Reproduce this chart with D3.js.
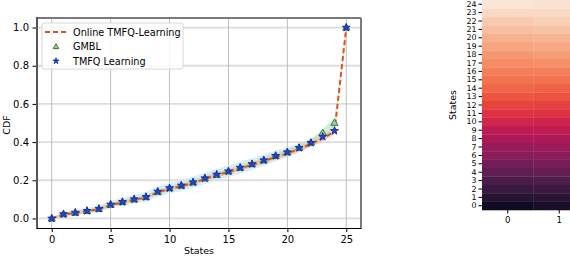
<!DOCTYPE html>
<html>
<head>
<meta charset="utf-8">
<script src="https://cdn.jsdelivr.net/npm/d3@7"></script>
<style>
  body { margin: 0; background: #fff; }
  svg { display: block; font-family: "DejaVu Sans", sans-serif; }
</style>
</head>
<body>
<svg id="chart" width="570" height="258"></svg>
<script>
// states 0..25
const states = d3.range(26);

// CDF
const online = [0.0, 0.021, 0.029, 0.038, 0.049, 0.070, 0.084, 0.098, 0.110, 0.137, 0.155, 0.169,
  0.186, 0.207, 0.226, 0.244, 0.262, 0.281, 0.300, 0.322, 0.341, 0.364, 0.390, 0.420, 0.455, 1.0];
const onlineStd = [0.004, 0.008, 0.008, 0.008, 0.008, 0.009, 0.009, 0.009, 0.01, 0.01, 0.01, 0.011,
  0.011, 0.012, 0.012, 0.012, 0.013, 0.013, 0.013, 0.013, 0.014, 0.014, 0.014, 0.015, 0.015, 0.004];
const gmbl = [0.0, 0.022, 0.030, 0.039, 0.050, 0.072, 0.086, 0.100, 0.112, 0.140, 0.158, 0.172,
  0.189, 0.210, 0.229, 0.247, 0.266, 0.285, 0.305, 0.328, 0.347, 0.371, 0.398, 0.449, 0.501, 1.0];
const gmblStd = [0.004, 0.008, 0.008, 0.008, 0.009, 0.009, 0.01, 0.01, 0.01, 0.011, 0.011, 0.012,
  0.012, 0.013, 0.013, 0.013, 0.014, 0.014, 0.014, 0.015, 0.015, 0.016, 0.017, 0.02, 0.025, 0.004];
const tmfq = [0.0, 0.023, 0.031, 0.040, 0.051, 0.073, 0.087, 0.101, 0.113, 0.141, 0.159, 0.173,
  0.190, 0.211, 0.230, 0.247, 0.266, 0.285, 0.305, 0.328, 0.347, 0.370, 0.396, 0.428, 0.459, 1.0];
const tmfqStd = [0.005, 0.011, 0.013, 0.015, 0.017, 0.019, 0.021, 0.023, 0.025, 0.027, 0.028, 0.029,
  0.03, 0.03, 0.031, 0.031, 0.031, 0.03, 0.029, 0.028, 0.026, 0.023, 0.02, 0.017, 0.013, 0.004];

const xTicks = [0, 5, 10, 15, 20, 25];
const yTicks = [0, 0.2, 0.4, 0.6, 0.8, 1.0];

// heatmap: two columns, 25 states (values 0..1 on the rocket scale)
const heatRows = d3.range(25);
const heatCols = [0, 1];
const heatCol0 = [0.03, 0.08, 0.13, 0.18, 0.23, 0.28, 0.33, 0.37, 0.42, 0.46, 0.52, 0.56, 0.61,
  0.65, 0.69, 0.72, 0.75, 0.78, 0.81, 0.84, 0.87, 0.90, 0.93, 0.96, 0.99];
const heatCol1 = [0.05, 0.09, 0.14, 0.19, 0.24, 0.29, 0.33, 0.38, 0.42, 0.47, 0.51, 0.56, 0.60,
  0.64, 0.68, 0.72, 0.75, 0.79, 0.82, 0.85, 0.88, 0.91, 0.94, 0.96, 0.98];

const rocketStops = ["#03051a", "#2a1636", "#4c1d4b", "#701f57", "#961c5b", "#bb1655",
  "#db2a46", "#ec5038", "#f37651", "#f69c73", "#f7c1a2", "#faebdd"];

const svg = d3.select("#chart");

// ---------- left line chart ----------
const x = d3.scaleLinear().domain([-1.25, 26.25]).range([37, 361]);
const y = d3.scaleLinear().domain([-0.05, 1.05]).range([228, 18]);

const plot = svg.append("g");

// grid
plot.selectAll(".hgrid").data(yTicks).join("line")
  .attr("x1", 37).attr("x2", 361)
  .attr("y1", (d) => y(d)).attr("y2", (d) => y(d))
  .attr("stroke", "#dcdcdc").attr("stroke-width", 1.8);
plot.selectAll(".vgrid").data(xTicks).join("line")
  .attr("x1", (d) => x(d)).attr("x2", (d) => x(d))
  .attr("y1", 18).attr("y2", 228)
  .attr("stroke", "#bdbdbd").attr("stroke-width", 1);

function band(mean, std) {
  return d3.area()
    .x((d) => x(d))
    .y0((d) => y(mean[d] - std[d]))
    .y1((d) => y(mean[d] + std[d]));
}

plot.append("path").datum(states).attr("d", band(tmfq, tmfqStd))
  .attr("fill", "#c4e6f8").attr("opacity", 0.7);
plot.append("path").datum(states).attr("d", band(gmbl, gmblStd))
  .attr("fill", "#a8dcb6").attr("opacity", 0.55);
plot.append("path").datum(states).attr("d", band(online, onlineStd))
  .attr("fill", "#f5b88e").attr("opacity", 0.6);

const line = (vals) => d3.line().x((d) => x(d)).y((d) => y(vals[d]));
plot.append("path").datum(states).attr("d", line(online))
  .attr("fill", "none").attr("stroke", "#d9531e").attr("stroke-width", 2)
  .attr("stroke-dasharray", "5,3");

const tri = d3.symbol().type(d3.symbolTriangle).size(22);
const star = d3.symbol().type(d3.symbolStar).size(19);
const triSmall = d3.symbol().type(d3.symbolTriangle).size(14);
const starSmall = d3.symbol().type(d3.symbolStar).size(12);

plot.selectAll(".gm").data(states).join("path")
  .attr("transform", (d) => `translate(${x(d)},${y(gmbl[d]) + 0.5})`)
  .attr("d", tri).attr("fill", "#9fd0a0").attr("stroke", "#3a7a3f").attr("stroke-width", 1);
plot.selectAll(".tq").data(states).join("path")
  .attr("transform", (d) => `translate(${x(d)},${y(tmfq[d])})`)
  .attr("d", star).attr("fill", "#2244dd").attr("stroke", "#1a2fa8").attr("stroke-width", 1);

// spines
plot.append("line").attr("x1", 37).attr("x2", 361).attr("y1", 18).attr("y2", 18)
  .attr("stroke", "#7a7a7a").attr("stroke-width", 2);
plot.append("line").attr("x1", 361).attr("x2", 361).attr("y1", 18).attr("y2", 229)
  .attr("stroke", "#7a7a7a").attr("stroke-width", 2);
plot.append("line").attr("x1", 37).attr("x2", 37).attr("y1", 17).attr("y2", 229)
  .attr("stroke", "#555").attr("stroke-width", 2);

const xAxis = plot.append("g").attr("transform", "translate(0,228.5)")
  .call(d3.axisBottom(x).tickValues(xTicks).tickSize(3.5).tickPadding(3.5).tickFormat(d3.format("d")));
xAxis.select(".domain").attr("d", "M37,0H361").attr("stroke", "#000");
xAxis.selectAll("text").attr("font-size", 10).attr("font-family", "DejaVu Sans").attr("fill", "#000");

const yAxis = plot.append("g").attr("transform", "translate(36,0)")
  .call(d3.axisLeft(y).tickValues(yTicks).tickSize(3.5).tickPadding(3.5).tickFormat(d3.format(".1f")));
yAxis.select(".domain").remove();
yAxis.selectAll("text").attr("font-size", 10).attr("font-family", "DejaVu Sans").attr("fill", "#000");

svg.append("text").attr("x", 199).attr("y", 254).attr("text-anchor", "middle")
  .attr("font-size", 9.5).text("States");
svg.append("text").attr("transform", "translate(10,125) rotate(-90)").attr("text-anchor", "middle")
  .attr("font-size", 9.5).text("CDF");

// legend
const legend = plot.append("g");
legend.append("rect").attr("x", 42).attr("y", 23).attr("width", 141).attr("height", 46)
  .attr("rx", 2).attr("fill", "#fff").attr("fill-opacity", 0.85)
  .attr("stroke", "#d6d6d6").attr("stroke-width", 1);
legend.append("line").attr("x1", 45).attr("x2", 66).attr("y1", 32).attr("y2", 32)
  .attr("stroke", "#d9531e").attr("stroke-width", 2).attr("stroke-dasharray", "5,3");
legend.append("path").attr("transform", "translate(56,47)").attr("d", triSmall)
  .attr("fill", "#9fd0a0").attr("stroke", "#3a7a3f");
legend.append("path").attr("transform", "translate(56,61)").attr("d", starSmall)
  .attr("fill", "#2244dd").attr("stroke", "#1a2fa8").attr("stroke-width", 0.8);
const legendLabels = ["Online TMFQ-Learning", "GMBL", "TMFQ Learning"];
legend.selectAll(".lt").data(legendLabels).join("text")
  .attr("x", 73).attr("y", (d, i) => 35.5 + i * 14.5)
  .attr("font-size", 9.7).text((d) => d);

// ---------- right heatmap ----------
const color = d3.scaleSequential(d3.interpolateRgbBasis(rocketStops)).domain([0, 1]);
const hx = d3.scaleBand().domain(heatCols).range([482, 585]);
const hy = d3.scaleBand().domain(heatRows).range([210, 0]);
const heat = svg.append("g");
const heatVals = [heatCol0, heatCol1];
heatCols.forEach((c) => {
  heat.selectAll(`.c${c}`).data(heatRows).join("rect")
    .attr("x", hx(c)).attr("y", (r) => hy(r))
    .attr("width", hx.bandwidth() + 0.3).attr("height", hy.bandwidth() + 0.3)
    .attr("fill", (r) => color(heatVals[c][r]));
});

const hyAxis = heat.append("g").attr("transform", "translate(482,0)")
  .call(d3.axisLeft(hy).tickSize(3.5).tickPadding(2));
hyAxis.select(".domain").remove();
hyAxis.selectAll("text").attr("font-size", 7.9).attr("font-family", "DejaVu Sans").attr("fill", "#000");

const hxAxis = heat.append("g").attr("transform", "translate(0,210)")
  .call(d3.axisBottom(hx).tickSize(3.5).tickPadding(3));
hxAxis.select(".domain").remove();
hxAxis.selectAll("text").attr("font-size", 8.6).attr("font-family", "DejaVu Sans").attr("fill", "#000");

svg.append("text").attr("transform", "translate(456,105) rotate(-90)").attr("text-anchor", "middle")
  .attr("font-size", 9.5).text("States");
</script>
</body>
</html>
